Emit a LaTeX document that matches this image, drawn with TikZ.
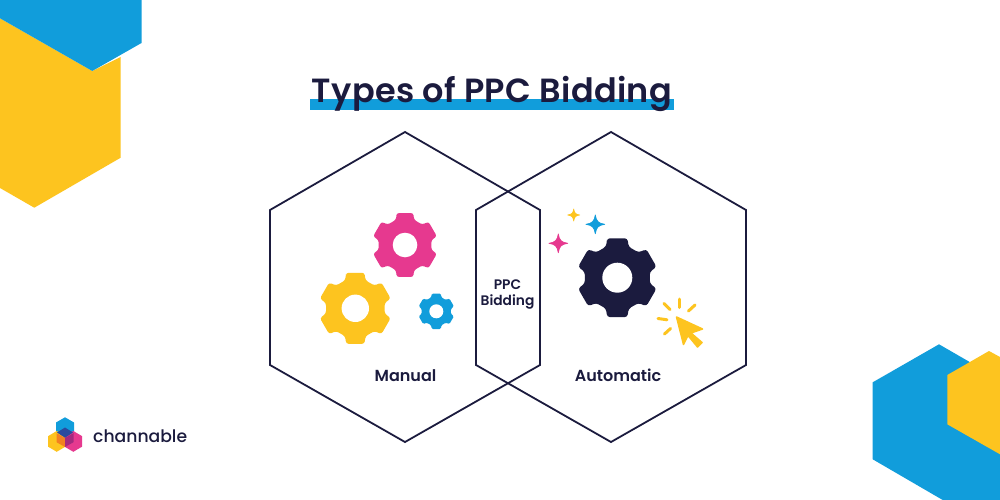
\documentclass[tikz,border=0pt]{standalone}
\usepackage{fontspec}
\setmainfont{Poppins}[BoldFont=Poppins SemiBold]
\newfontfamily\brandfont{Poppins Medium}
\definecolor{cblue}{HTML}{119DDB}
\definecolor{cyellow}{HTML}{FDC41F}
\definecolor{cpink}{HTML}{E6398F}
\definecolor{cdark}{HTML}{1B1B3E}
\definecolor{corange}{HTML}{F28021}
\definecolor{cplum}{HTML}{A42A7F}
\definecolor{cnavy}{HTML}{2A4A9E}
\newcommand{\cgear}[5]{%
  \fill[#5,rounded corners=#3*0.07pt]
    ({#1+#3*0.9*cos(107)},{#2-#3*0.9*sin(107)})
    \foreach \a in {90,30,-30,-90,-150,-210}{
      -- ({#1+#3*cos(\a+14.5)},{#2-#3*sin(\a+14.5)})
      -- ({#1+#3*cos(\a-14.5)},{#2-#3*sin(\a-14.5)})
      -- ({#1+#3*0.81*cos(\a-20)},{#2-#3*0.81*sin(\a-20)})
      -- ({#1+#3*0.81*cos(\a-40)},{#2-#3*0.81*sin(\a-40)})
    } -- cycle;
  \fill[white] (#1,#2) circle[radius=#4];
}
\newcommand{\csparkle}[4]{%
  \fill[#4,line join=round,draw=#4,line width=0.6pt]
    ({#1},{#2-#3}) .. controls ({#1+#3*0.12},{#2-#3*0.3}) and ({#1+#3*0.3},{#2-#3*0.12}) .. ({#1+#3},{#2})
    .. controls ({#1+#3*0.3},{#2+#3*0.12}) and ({#1+#3*0.12},{#2+#3*0.3}) .. ({#1},{#2+#3})
    .. controls ({#1-#3*0.12},{#2+#3*0.3}) and ({#1-#3*0.3},{#2+#3*0.12}) .. ({#1-#3},{#2})
    .. controls ({#1-#3*0.3},{#2-#3*0.12}) and ({#1-#3*0.12},{#2-#3*0.3}) .. ({#1},{#2-#3}) -- cycle;
}
\tikzset{
  hexline/.style={draw=cdark,line width=1.8pt,line join=miter},
  lbl/.style={text=cdark,font=\bfseries,inner sep=0pt,align=center},
  ray/.style={draw=cyellow,line width=3pt,line cap=round},
}
\begin{document}
\begin{tikzpicture}[x=1pt,y=-1pt]
\useasboundingbox (0,0) rectangle (1000,500);
\fill[white] (0,0) rectangle (1000,500);
% corner shapes
\fill[cyellow] (0,18.3) -- (92.3,71) -- (120.7,57) -- (120.7,157.7) -- (34.3,207.7) -- (0,188) -- cycle;
\fill[cblue] (0,0) -- (141.5,0) -- (141.5,43) -- (92.3,71) -- (0,18.3) -- cycle;
\fill[cblue] (939,344.3) -- (1000,379.5) -- (1000,500) -- (942.7,500) -- (872.7,459.3) -- (872.7,382.3) -- cycle;
\fill[cyellow] (989,351) -- (1000,357) -- (1000,454.3) -- (947.3,424.3) -- (947.3,375) -- cycle;
% title
\fill[cblue] (310,98.7) rectangle (674,110);
\node[lbl,anchor=base,font=\fontsize{33.5}{38}\selectfont\bfseries\addfontfeature{LetterSpace=1}] (title) at (492,102.7) {Types of PPC Bidding};
% hexagons
\draw[hexline] (405,132) -- (540,210) -- (540,365) -- (405,442) -- (270,365) -- (270,210) -- cycle;
\draw[hexline] (611,132) -- (746,210) -- (746,365) -- (611,442) -- (476,365) -- (476,210) -- cycle;
% gears
\cgear{405}{245}{33}{12.3}{cpink}
\cgear{355.3}{308.3}{36.7}{13.7}{cyellow}
\cgear{436.3}{311.3}{18.3}{7}{cblue}
\cgear{617.3}{277.7}{40.7}{15}{cdark}
% sparkles
\csparkle{573.7}{215}{6}{cyellow}
\csparkle{595.3}{224.3}{9.5}{cblue}
\csparkle{558.3}{243.3}{9.5}{cpink}
% cursor
\fill[cyellow,draw=cyellow,line width=1.5pt,line join=round] (676.5,317) -- (702.5,329) -- (691,333) -- (702,342.5) -- (697.5,347) -- (688,335.5) -- (683.5,344.5) -- cycle;
\draw[ray] (664,303.5) -- (670,309.5);
\draw[ray] (679.5,299) -- (679.5,307.5);
\draw[ray] (695,305) -- (688.5,311);
\draw[ray] (658,318.5) -- (667,319.8);
\draw[ray] (664.5,334) -- (670.5,328.5);
% labels
\node[lbl,anchor=base,font=\fontsize{16}{18}\selectfont\bfseries] (manual) at (405.5,381) {Manual};
\node[lbl,anchor=base,font=\fontsize{16}{18}\selectfont\bfseries] (auto) at (618,381) {Automatic};
\node[lbl,font=\fontsize{13.8}{16}\selectfont\bfseries] (mid) at (507.5,294.5) {PPC\\Bidding};
% logo
\def\hexA{(65,417.3) -- (74,422.5) -- (74,433) -- (65,438.2) -- (56,433) -- (56,422.5) -- cycle}
\def\hexB{(56.7,431) -- (65.5,436.2) -- (65.5,446.6) -- (56.7,451.8) -- (48,446.6) -- (48,436.2) -- cycle}
\def\hexC{(73.3,431) -- (82.2,436.2) -- (82.2,446.6) -- (73.3,451.8) -- (64.5,446.6) -- (64.5,436.2) -- cycle}
\fill[cblue] \hexA;
\fill[cyellow] \hexB;
\fill[cpink] \hexC;
\fill[corange] (56.5,433.2) -- (65,438) -- (65,447) -- (56.5,442.2) -- cycle;
\fill[cplum] (73.5,433.2) -- (65,438) -- (65,447) -- (73.5,442.2) -- cycle;
\fill[cnavy] (65,427.5) -- (73,432.5) -- (65,437.7) -- (57,432.5) -- cycle;
\node[anchor=base west,inner sep=0pt,text=cdark,font=\fontsize{17.2}{21}\selectfont\brandfont] (brand) at (93,442.5) {channable};
\end{tikzpicture}
\end{document}
